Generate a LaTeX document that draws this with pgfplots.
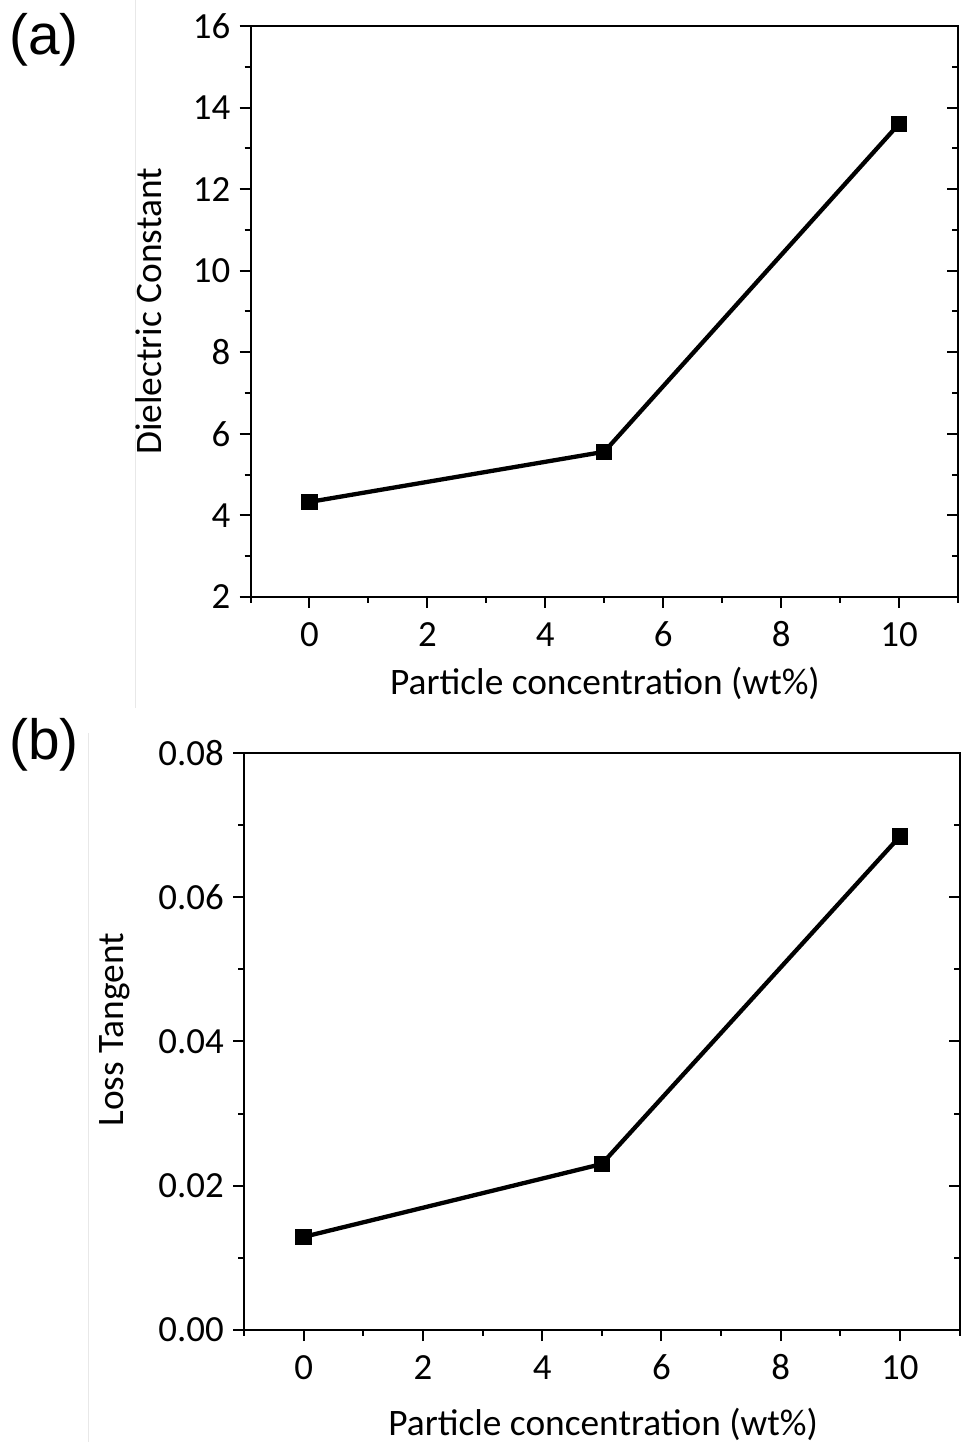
\documentclass[border=0pt]{standalone}
\usepackage{fontspec}
\setmainfont{Carlito}
\newfontfamily\arialfont{Liberation Sans}
\usepackage{pgfplots}
\pgfplotsset{compat=1.18}
\begin{document}
\begin{tikzpicture}[x=1bp,y=1bp]
\useasboundingbox (0,0) rectangle (961,1442);
\pgfplotsset{
  common/.style={
    scale only axis,
    anchor=south west,
    xmin=-1, xmax=11,
    xtick={0,2,...,10},
    minor xtick={-1,1,3,...,11},
    axis line style={line width=2bp, black},
    every tick/.append style={line width=2bp, black},
    major tick length=11bp,
    minor tick length=6bp,
    /pgf/number format/assume math mode=true,
    tick label style={font=\fontsize{37}{42}\selectfont},
    label style={font=\fontsize{37.5}{42}\selectfont},
    yticklabel style={inner sep=0pt, xshift=-9bp},
    xticklabel style={inner sep=0pt, yshift=-32bp, anchor=north, text height=0.63em, text depth=0pt},
  },
  mainax/.style={common, xtick pos=bottom, ytick pos=left, tick align=outside},
  rightax/.style={common, xtick=\empty, minor xtick={}, ytick pos=right, tick align=inside,
    yticklabels={}, axis line style={draw=none}},
  dataplot/.style={black, line width=4.3bp, mark=square*, mark size=6bp, mark options={solid, fill=black}},
}
% faint separator lines from the original figure
\draw[gray!18, line width=0.8bp] (135,1442) -- (135,734);
\draw[gray!18, line width=0.8bp] (88,709) -- (88,0);
% panel letters
\node[anchor=base west, inner sep=0pt, font=\arialfont\fontsize{57}{60}\selectfont] at (9,1387) {(a)};
\node[anchor=base west, inner sep=0pt, font=\arialfont\fontsize{57}{60}\selectfont] at (9,682) {(b)};
% ---- panel (a)
\begin{axis}[mainax,
  at={(250.5bp,845bp)}, width=707.5bp, height=571bp,
  ymin=2, ymax=16, ytick={2,4,...,16}, minor ytick={3,5,...,15},
  xlabel={Particle concentration (wt\%)},
  ylabel={Dielectric Constant},
  xlabel style={at={(axis description cs:0.501,-0.1716)}, anchor=base, inner sep=0pt},
  ylabel style={at={(axis description cs:-0.1251,0.5)}, anchor=base, rotate=0, inner sep=0pt},
]
\addplot[dataplot] coordinates {(0,4.33) (5,5.56) (10,13.6)};
\end{axis}
\begin{axis}[rightax,
  at={(250.5bp,845bp)}, width=707.5bp, height=571bp,
  ymin=2, ymax=16, ytick={2,4,...,16}, minor ytick={3,5,...,15},
]
\end{axis}
% ---- panel (b)
\begin{axis}[mainax,
  at={(244bp,112bp)}, width=715.5bp, height=577.3bp,
  ymin=0, ymax=0.08, ytick={0,0.02,...,0.081}, minor ytick={0.01,0.03,0.05,0.07},
  scaled y ticks=false,
  yticklabel style={/pgf/number format/.cd, fixed, fixed zerofill, precision=2},
  xlabel={Particle concentration (wt\%)},
  ylabel={Loss Tangent},
  xlabel style={at={(axis description cs:0.502,-0.1836)}, anchor=base, inner sep=0pt},
  ylabel style={at={(axis description cs:-0.1683,0.52)}, anchor=base, rotate=0, inner sep=0pt},
]
\addplot[dataplot] coordinates {(0,0.0129) (5,0.0230) (10,0.0684)};
\end{axis}
\begin{axis}[rightax,
  at={(244bp,112bp)}, width=715.5bp, height=577.3bp,
  ymin=0, ymax=0.08, ytick={0,0.02,...,0.081}, minor ytick={0.01,0.03,0.05,0.07},
  scaled y ticks=false,
]
\end{axis}
\end{tikzpicture}
\end{document}
